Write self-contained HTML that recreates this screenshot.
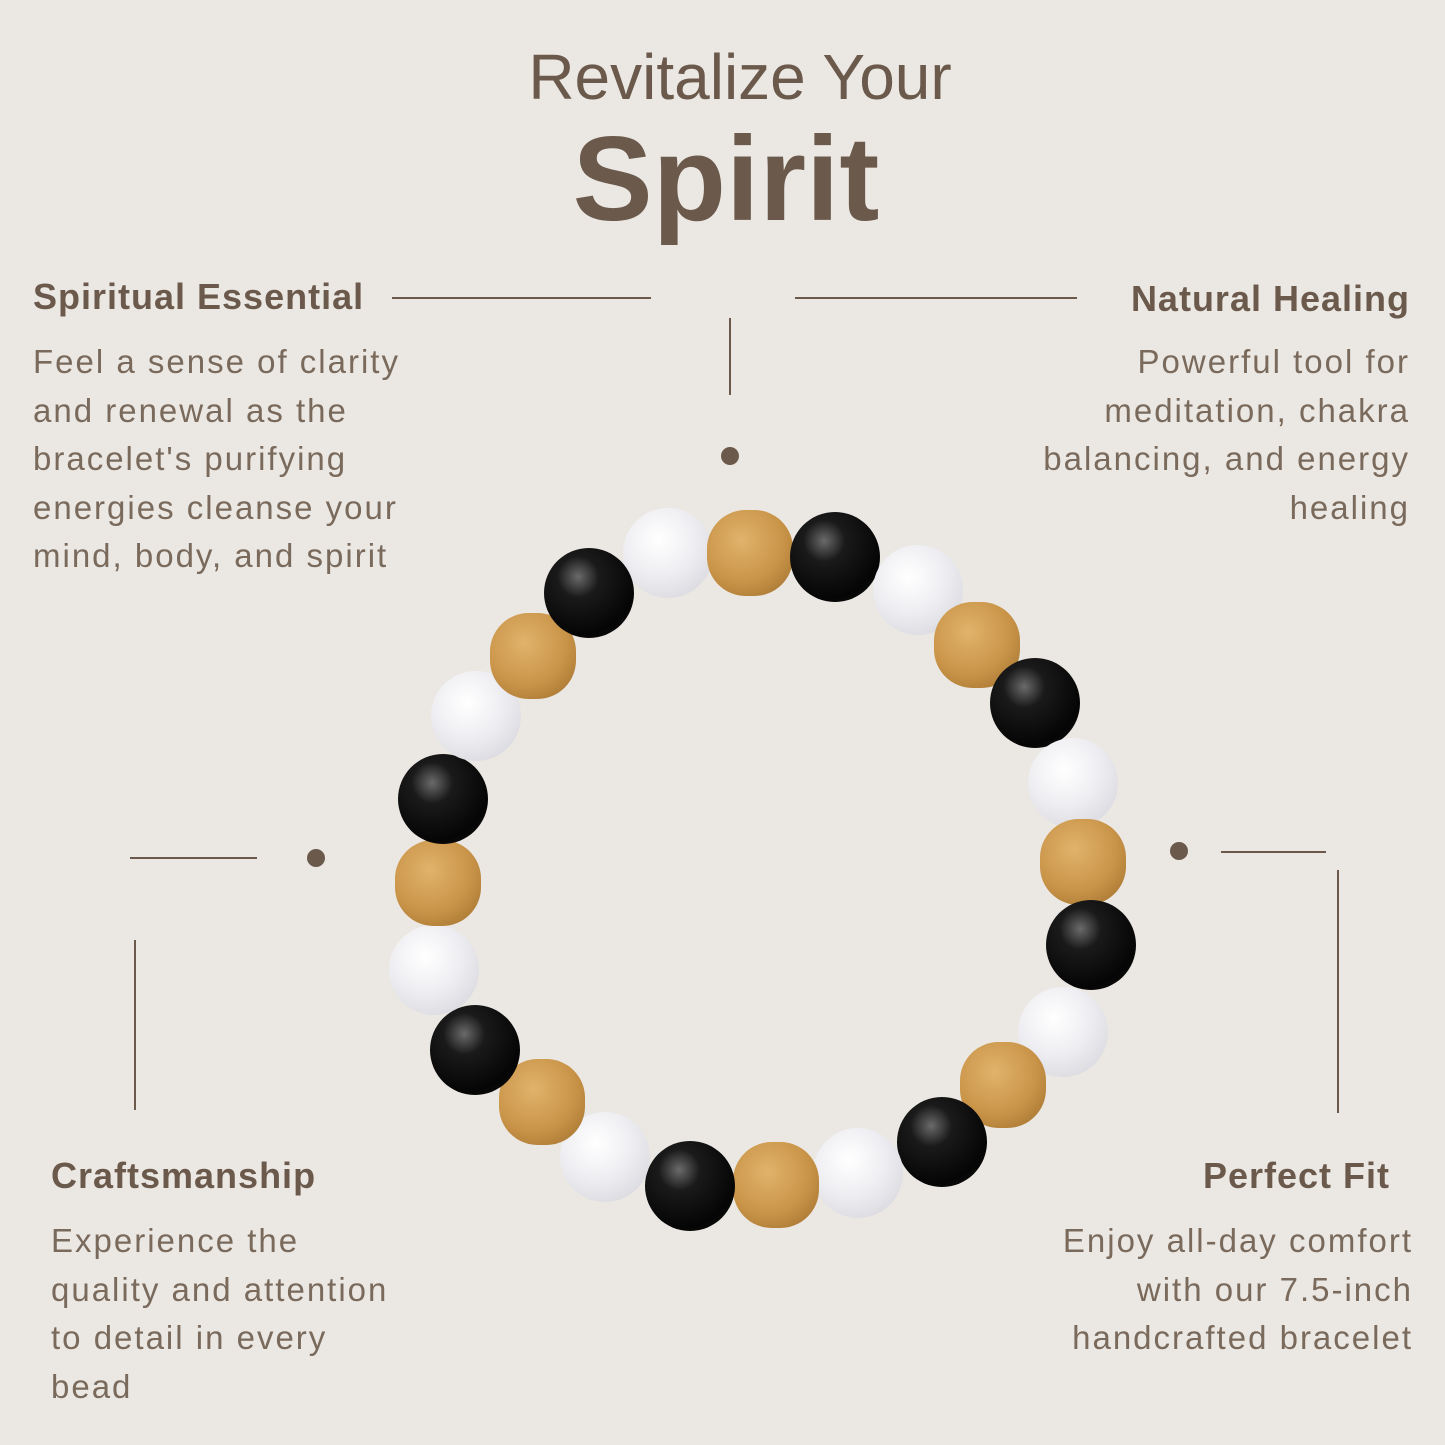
<!DOCTYPE html>
<html><head><meta charset="utf-8"><style>
html,body{margin:0;padding:0}
body{width:1445px;height:1445px;background:#ebe8e4;position:relative;overflow:hidden;font-family:"Liberation Sans",sans-serif;color:#6b5a4c}
.t{position:absolute;white-space:nowrap}
.h{font-weight:bold;font-size:36px;color:#6b5a4c;letter-spacing:1px}
.b{font-size:33px;line-height:48.5px;color:#7a6a5c;letter-spacing:2px}
.l{position:absolute;background:#6b5a4c}
.d{position:absolute;width:18px;height:18px;border-radius:50%;background:#6b5a4c}
.bd{position:absolute;width:90px;height:90px;border-radius:50%}
.w{background:radial-gradient(circle at 40% 35%,#ffffff 0%,#eeeef2 45%,#cfcfd6 100%)}
.k{background:radial-gradient(circle at 38% 32%,#6a6a6a 0%,#1a1a1a 25%,#050505 70%,#151515 100%)}
.o{background:radial-gradient(circle at 40% 35%,#e0b36c 0%,#c99448 55%,#9c6c2c 100%);width:86px;height:86px;border-radius:45%}
</style></head><body>
<div class="t" style="left:0;width:1480px;text-align:center;top:40px;font-size:64px;color:#6b5a4c">Revitalize Your</div>
<div class="t" style="left:0;width:1452px;text-align:center;top:110px;font-size:120px;font-weight:bold;color:#6b5a4c">Spirit</div>

<div class="t h" style="left:33px;top:276px">Spiritual Essential</div>
<div class="t b" style="left:33px;top:338px">Feel a sense of clarity<br>and renewal as the<br>bracelet's purifying<br>energies cleanse your<br>mind, body, and spirit</div>

<div class="t h" style="right:35px;top:278px">Natural Healing</div>
<div class="t b" style="right:35px;top:338px;text-align:right">Powerful tool for<br>meditation, chakra<br>balancing, and energy<br>healing</div>

<div class="t h" style="left:51px;top:1155px">Craftsmanship</div>
<div class="t b" style="left:51px;top:1217px">Experience the<br>quality and attention<br>to detail in every<br>bead</div>

<div class="t h" style="right:55px;top:1155px">Perfect Fit</div>
<div class="t b" style="right:32px;top:1217px;text-align:right">Enjoy all-day comfort<br>with our 7.5-inch<br>handcrafted bracelet</div>

<div class="l" style="left:392px;top:297px;width:259px;height:2px"></div>
<div class="l" style="left:795px;top:297px;width:282px;height:2px"></div>
<div class="l" style="left:729px;top:318px;width:2px;height:77px"></div>
<div class="d" style="left:721px;top:447px"></div>
<div class="l" style="left:130px;top:857px;width:127px;height:2px"></div>
<div class="d" style="left:307px;top:849px"></div>
<div class="l" style="left:134px;top:940px;width:2px;height:170px"></div>
<div class="d" style="left:1170px;top:842px"></div>
<div class="l" style="left:1221px;top:851px;width:105px;height:2px"></div>
<div class="l" style="left:1337px;top:870px;width:2px;height:243px"></div>

<div class="bd w" style="left:623px;top:508px"></div>
<div class="bd o" style="left:707px;top:510px"></div>
<div class="bd k" style="left:790px;top:512px"></div>
<div class="bd w" style="left:873px;top:545px"></div>
<div class="bd o" style="left:934px;top:602px"></div>
<div class="bd k" style="left:990px;top:658px"></div>
<div class="bd w" style="left:1028px;top:738px"></div>
<div class="bd o" style="left:1040px;top:819px"></div>
<div class="bd k" style="left:1046px;top:900px"></div>
<div class="bd w" style="left:1018px;top:987px"></div>
<div class="bd o" style="left:960px;top:1042px"></div>
<div class="bd k" style="left:897px;top:1097px"></div>
<div class="bd w" style="left:813px;top:1128px"></div>
<div class="bd o" style="left:733px;top:1142px"></div>
<div class="bd k" style="left:645px;top:1141px"></div>
<div class="bd w" style="left:560px;top:1112px"></div>
<div class="bd o" style="left:499px;top:1059px"></div>
<div class="bd k" style="left:430px;top:1005px"></div>
<div class="bd w" style="left:389px;top:925px"></div>
<div class="bd o" style="left:395px;top:840px"></div>
<div class="bd k" style="left:398px;top:754px"></div>
<div class="bd w" style="left:431px;top:671px"></div>
<div class="bd o" style="left:490px;top:613px"></div>
<div class="bd k" style="left:544px;top:548px"></div>
</body></html>
